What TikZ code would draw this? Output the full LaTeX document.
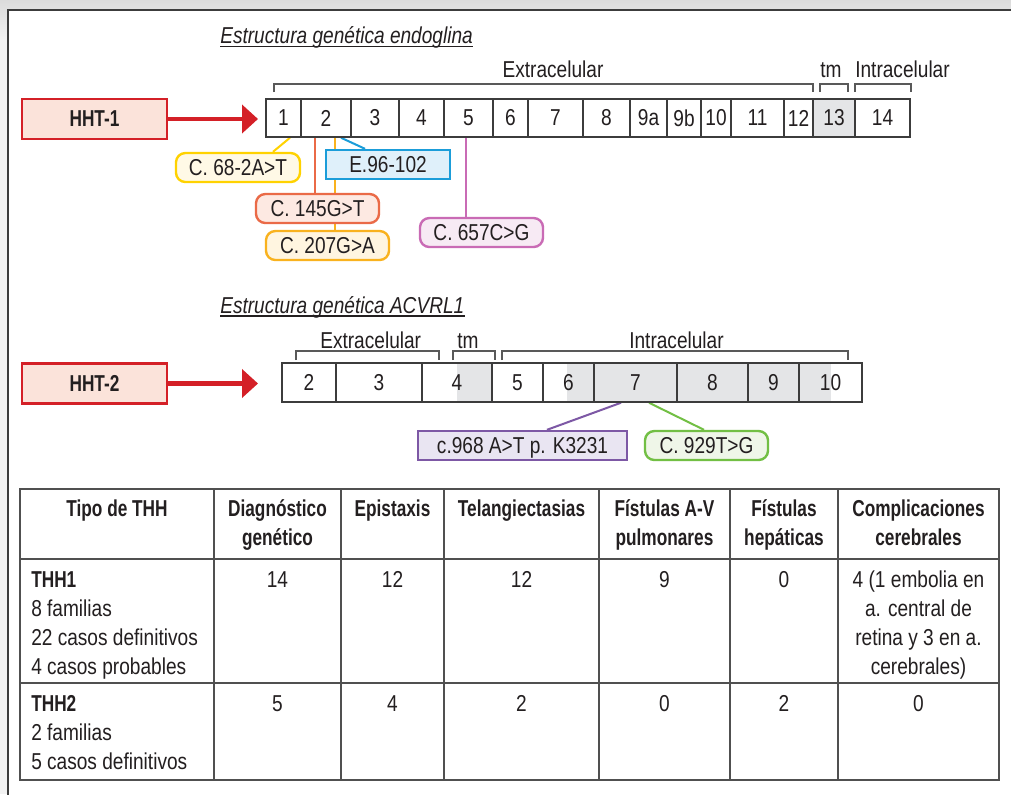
\documentclass[tikz,border=0pt]{standalone}
\usepackage{fontspec}
\setmainfont{Liberation Sans}[FakeStretch=0.83]
\newfontfamily\hdr{Liberation Sans}[FakeStretch=0.75]
\usetikzlibrary{arrows.meta,backgrounds}
\definecolor{ink}{HTML}{231F20}
\definecolor{edge}{HTML}{3C3C3C}
\definecolor{gry}{HTML}{E4E5E7}
\definecolor{hred}{HTML}{D42027}
\definecolor{hfill}{HTML}{FBE3DA}
\definecolor{yelB}{HTML}{FFD200}\definecolor{yelF}{HTML}{FFF9E6}
\definecolor{bluB}{HTML}{1B9DD9}\definecolor{bluF}{HTML}{DFF0FA}
\definecolor{redB}{HTML}{EA6A47}\definecolor{redF}{HTML}{FDE9E2}
\definecolor{orgB}{HTML}{F9B21E}\definecolor{orgF}{HTML}{FFF5E0}
\definecolor{pnkB}{HTML}{C96BB5}\definecolor{pnkF}{HTML}{F7EAF4}
\definecolor{purB}{HTML}{7D58A5}\definecolor{purF}{HTML}{E9E5F2}
\definecolor{grnB}{HTML}{72BF44}\definecolor{grnF}{HTML}{EFF6E8}
\begin{document}
\begin{tikzpicture}[x=0.75pt,y=-0.75pt,
  txt/.style={font=\fontsize{17.25}{21}\selectfont, text=ink, inner sep=0pt},
  bld/.style={font=\hdr\bfseries\fontsize{17.25}{21}\selectfont, text=ink, inner sep=0pt},
  exon/.style={txt, draw=edge, line width=1.1pt, minimum height=38*0.75pt},
  exonb/.style={txt, draw=edge, line width=1.1pt, minimum height=39*0.75pt},
  mut/.style={txt, line width=1.8pt, minimum height=29*0.75pt, text height=12.3pt, text depth=0pt},
  rmut/.style={mut, rounded corners=7pt},
  hht/.style={bld, draw=hred, fill=hfill, line width=2pt, minimum width=145*0.75pt, minimum height=40*0.75pt},
  bigarrow/.style={draw=hred, line width=3.4pt, -{Triangle[length=12pt,width=21pt]}},
  brk/.style={draw=edge!85, line width=1pt},
  conn/.style={line width=1.5pt},
  tbl/.style={draw=edge!90, line width=1.5pt},
  ttl/.style={txt, font=\itshape\fontsize{17.25}{21}\selectfont}
]
\useasboundingbox (0,0) rectangle (1011,794);
\begin{scope}[on background layer]
  \shade[top color=gray!28, bottom color=gray!10] (0,0) rectangle (1011,40);
  \fill[gray!10] (0,40) rectangle (1011,794);
  \filldraw[fill=white, draw=edge, line width=1.2pt] (8,10) rectangle (1030,810);
\end{scope}

% titles
\node[ttl, anchor=base west] (title1) at (220,43.5) {Estructura genética endoglina};
\draw[ink, line width=1.1pt] ([yshift=-3.2*0.75pt]title1.base west) -- ([yshift=-3.2*0.75pt]title1.base east);
\node[ttl, anchor=base west] (title2) at (220,313) {Estructura genética ACVRL1};
\draw[ink, line width=1.1pt] ([yshift=-3.2*0.75pt]title2.base west) -- ([yshift=-3.2*0.75pt]title2.base east);

% HHT boxes and arrows
\node[hht] (h1) at (94.5,119) {HHT-1};
\coordinate (tip1) at (258,119);
\draw[bigarrow] (h1.east) -- (tip1);
\node[hht] (h2) at (94.5,383.5) {HHT-2};
\coordinate (tip2) at (258,383.5);
\draw[bigarrow] (h2.east) -- (tip2);

% gene 1 exons
\fill[gry] (813,99) rectangle (855,137);
\foreach \a/\b/\t [count=\i] in {266/301/1, 301/351/2, 351/399/3, 399/444/4, 444/493/5, 493/528/6, 528/583/7, 583/630/8, 630/667/9a, 667/701/9b, 701/731/10, 731/784/11, 784/813/12, 813/855/13, 855/910/14}
  \node[exon, minimum width={(\b-\a)*0.75pt}] (a\i) at ({(\a+\b)/2},118) {\t};

% gene 1 brackets
\draw[brk] (274,92) -- (274,84) -- (813,84) -- (813,92);
\draw[brk] (820,92) -- (820,84) -- (848,84) -- (848,92);
\draw[brk] (855,92) -- (855,84) -- (911,84) -- (911,92);
\node[txt, anchor=base] (ex1) at (553,77.5) {Extracelular};
\node[txt, anchor=base] (tm1) at (831,77.5) {tm};
\node[txt, anchor=base] (in1) at (902.5,77.5) {Intracelular};

% gene 2 exons
\fill[gry] (457,363) rectangle (492,402);
\fill[gry] (567,363) rectangle (831,402);
\foreach \a/\b/\t [count=\i] in {282/336/2, 336/422/3, 422/492/4, 492/543/5, 543/594/6, 594/677/7, 677/748/8, 748/799/9, 799/862/10}
  \node[exonb, minimum width={(\b-\a)*0.75pt}] (b\i) at ({(\a+\b)/2},382.5) {\t};

% gene 2 brackets
\draw[brk] (296,360) -- (296,351) -- (439,351) -- (439,360);
\draw[brk] (453,360) -- (453,351) -- (495,351) -- (495,360);
\draw[brk] (502,360) -- (502,351) -- (848,351) -- (848,360);
\node[txt, anchor=base] (ex2) at (370.7,348) {Extracelular};
\node[txt, anchor=base] (tm2) at (468,348) {tm};
\node[txt, anchor=base] (in2) at (676.5,348) {Intracelular};

% mutation boxes
\node[rmut, draw=yelB, fill=yelF, minimum width=124*0.75pt] (m68) at (238,167.5) {C. 68-2A>T};
\node[mut, draw=bluB, fill=bluF, minimum width=124*0.75pt] (e96) at (388,164.5) {E.96-102};
\node[rmut, draw=redB, fill=redF, minimum width=123*0.75pt] (m145) at (317.5,208.5) {C. 145G>T};
\node[rmut, draw=orgB, fill=orgF, minimum width=123*0.75pt] (m207) at (327.5,245.5) {C. 207G>A};
\node[rmut, draw=pnkB, fill=pnkF, minimum width=123*0.75pt] (m657) at (481.5,232.5) {C. 657C>G};
\node[mut, draw=purB, fill=purF, minimum width=209*0.75pt] (m968) at (522.5,445.5) {c.968 A>T p. K3231};
\node[rmut, draw=grnB, fill=grnF, minimum width=123*0.75pt] (m929) at (706.5,445.5) {C. 929T>G};

\begin{scope}[on background layer]
  \draw[conn, yelB] ([xshift=6.5*0.75pt]a1.south) -- ([xshift=35*0.75pt]m68.north);
  \draw[conn, bluB] ([xshift=15*0.75pt]a2.south) -- ([xshift=-23*0.75pt]e96.north);
  \draw[conn, redB] ([xshift=-11*0.75pt]a2.south) -- ([xshift=-2.5*0.75pt]m145.north);
  \draw[conn, orgB] ([xshift=9*0.75pt]a2.south) -- ([xshift=7.5*0.75pt]m207.north);
  \draw[conn, pnkB] ([xshift=-2.5*0.75pt]a5.south) -- ([xshift=-15.5*0.75pt]m657.north);
  \draw[conn, purB] ([xshift=-14.5*0.75pt]b6.south) -- ([xshift=24.5*0.75pt]m968.north);
  \draw[conn, grnB] ([xshift=13.5*0.75pt]b6.south) -- ([xshift=-2.5*0.75pt]m929.north);
\end{scope}

% table
\draw[tbl] (20,489) rectangle (999,780);
\draw[tbl] (20,559) -- (999,559);
\draw[tbl] (20,683) -- (999,683);
\foreach \x in {214,341,444,599,730,838} \draw[tbl] (\x,489) -- (\x,780);

% header
\node[bld, anchor=base] (hA) at (117,516) {Tipo de THH};
\node[bld, anchor=base] (hB1) at (277.5,516) {Diagnóstico};
\node[bld, anchor=base] (hB2) at (277.5,545) {genético};
\node[bld, anchor=base] (hC) at (392.5,516) {Epistaxis};
\node[bld, anchor=base] (hD) at (521.5,516) {Telangiectasias};
\node[bld, anchor=base] (hE1) at (664.5,516) {Fístulas A-V};
\node[bld, anchor=base] (hE2) at (664.5,545) {pulmonares};
\node[bld, anchor=base] (hF1) at (784,516) {Fístulas};
\node[bld, anchor=base] (hF2) at (784,545) {hepáticas};
\node[bld, anchor=base] (hG1) at (918.5,516) {Complicaciones};
\node[bld, anchor=base] (hG2) at (918.5,545) {cerebrales};

% row 1
\node[bld, anchor=base west] (r1a1) at (31,587.5) {THH1};
\node[txt, anchor=base west] (r1a2) at (31,616.5) {8 familias};
\node[txt, anchor=base west] (r1a3) at (31,645.5) {22 casos definitivos};
\node[txt, anchor=base west] (r1a4) at (31,674) {4 casos probables};
\node[txt, anchor=base] (r1b) at (277.5,587.5) {14};
\node[txt, anchor=base] (r1c) at (392.5,587.5) {12};
\node[txt, anchor=base] (r1d) at (521.5,587.5) {12};
\node[txt, anchor=base] (r1e) at (664.5,587.5) {9};
\node[txt, anchor=base] (r1f) at (784,587.5) {0};
\node[txt, anchor=base] (r1g1) at (918.5,587.5) {4 (1 embolia en};
\node[txt, anchor=base] (r1g2) at (918.5,616.5) {a. central de};
\node[txt, anchor=base] (r1g3) at (918.5,645.5) {retina y 3 en a.};
\node[txt, anchor=base] (r1g4) at (918.5,674) {cerebrales)};

% row 2
\node[bld, anchor=base west] (r2a1) at (31,711.5) {THH2};
\node[txt, anchor=base west] (r2a2) at (31,740.5) {2 familias};
\node[txt, anchor=base west] (r2a3) at (31,769.5) {5 casos definitivos};
\node[txt, anchor=base] (r2b) at (277.5,711.5) {5};
\node[txt, anchor=base] (r2c) at (392.5,711.5) {4};
\node[txt, anchor=base] (r2d) at (521.5,711.5) {2};
\node[txt, anchor=base] (r2e) at (664.5,711.5) {0};
\node[txt, anchor=base] (r2f) at (784,711.5) {2};
\node[txt, anchor=base] (r2g) at (918.5,711.5) {0};
\end{tikzpicture}
\end{document}
